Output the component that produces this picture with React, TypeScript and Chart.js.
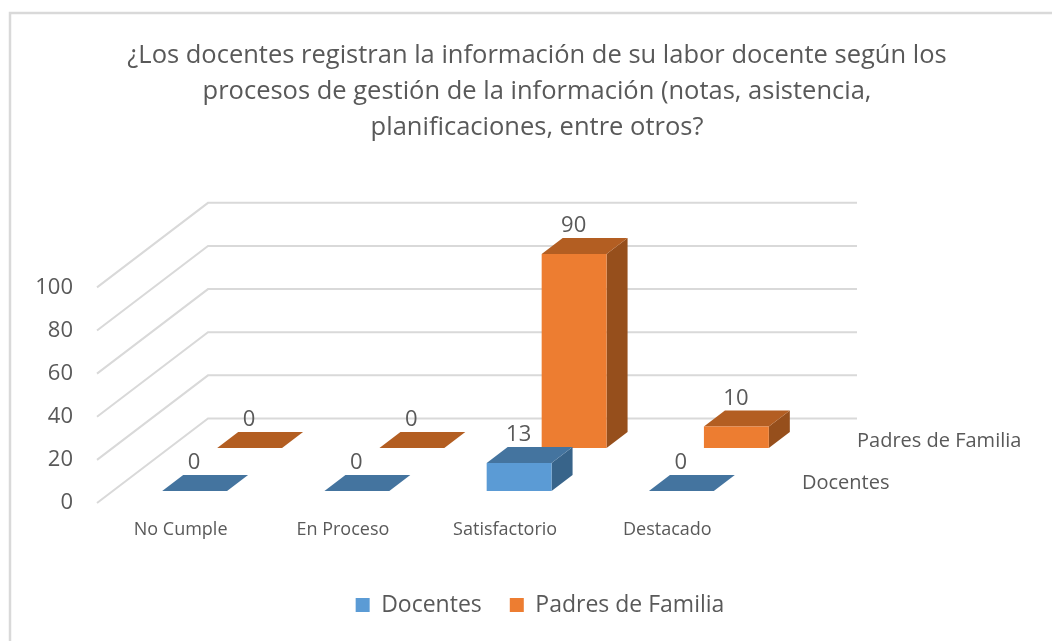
import React, { useEffect, useRef } from "react";
import { Chart, registerables } from "chart.js";

Chart.register(...registerables);

const categories = ["No Cumple", "En Proceso", "Satisfactorio", "Destacado"];
const docentes = [0, 0, 13, 0];
const padres = [0, 0, 90, 10];
const titleLines = [
  "¿Los docentes registran la información de su labor docente según los",
  "procesos de gestión de la información (notas, asistencia,",
  "planificaciones, entre otros?",
];

const FONT = "'Open Sans', sans-serif";
const TEXT = "#595959";
const GRID = "#d9d9d9";
// 3D look: how far the floor recedes, and where each series row sits on it
const WALL_DX = 111;
const WALL_DY = -84.5;
const BAR_DX = 21;
const BAR_DY = -16;
const rows = [
  { dx: 16.5, dy: -12, front: "#5b9bd5", top: "#44749f", side: "#38648a", labelX: 802, labelY: 483 },
  { dx: 71.5, dy: -55, front: "#ed7d31", top: "#b35e22", side: "#964f1c", labelX: 857, labelY: 441 },
];

const poly = (ctx: CanvasRenderingContext2D, color: string, pts: number[][]) => {
  ctx.fillStyle = color;
  ctx.beginPath();
  pts.forEach(([x, y], i) => (i ? ctx.lineTo(x, y) : ctx.moveTo(x, y)));
  ctx.closePath();
  ctx.fill();
};

const scene = {
  id: "scene",
  afterLayout(chart: any) {
    const lg = chart.legend;
    lg.left += 3;
    lg.right += 3;
  },
  beforeDraw(chart: any) {
    const { ctx, scales, chartArea } = chart;
    ctx.save();
    ctx.strokeStyle = GRID;
    ctx.lineWidth = 2.5;
    ctx.strokeRect(10, 13, 1200, 800);
    ctx.lineWidth = 2;
    scales.y.ticks.forEach((t: any) => {
      const p = scales.y.getPixelForValue(t.value);
      ctx.beginPath();
      ctx.moveTo(chartArea.left, p);
      ctx.lineTo(chartArea.left + WALL_DX, p + WALL_DY);
      ctx.lineTo(chartArea.right + WALL_DX, p + WALL_DY);
      ctx.stroke();
    });
    ctx.restore();
  },
  beforeDatasetsDraw(chart: any) {
    const { ctx } = chart;
    ctx.save();
    [1, 0].forEach((di) => {
      const r = rows[di];
      chart.getDatasetMeta(di).data.forEach((bar: any) => {
        const l = bar.x - bar.width / 2 + r.dx;
        const w = bar.width;
        const t = bar.y + r.dy;
        const b = bar.base + r.dy;
        poly(ctx, r.side, [[l + w, t], [l + w + BAR_DX, t + BAR_DY], [l + w + BAR_DX, b + BAR_DY], [l + w, b]]);
        poly(ctx, r.top, [[l, t], [l + BAR_DX, t + BAR_DY], [l + w + BAR_DX, t + BAR_DY], [l + w, t]]);
        poly(ctx, r.front, [[l, t], [l + w, t], [l + w, b], [l, b]]);
      });
    });
    ctx.restore();
  },
  beforeDatasetDraw() {
    return false;
  },
  afterDatasetsDraw(chart: any) {
    const { ctx } = chart;
    ctx.save();
    ctx.fillStyle = TEXT;
    ctx.textAlign = "center";
    ctx.textBaseline = "middle";
    ctx.font = `22px ${FONT}`;
    [1, 0].forEach((di) => {
      const r = rows[di];
      const values = chart.data.datasets[di].data;
      chart.getDatasetMeta(di).data.forEach((bar: any, i: number) => {
        ctx.fillText(String(values[i]), bar.x + r.dx - 0.5, bar.y + r.dy - 28);
      });
    });
    ctx.textAlign = "left";
    ctx.font = `20px ${FONT}`;
    rows.forEach((r, di) => {
      ctx.fillText(chart.data.datasets[di].label, r.labelX, r.labelY);
    });
    ctx.restore();
  },
};

export default function App() {
  const ref = useRef<HTMLCanvasElement>(null);
  useEffect(() => {
    document.body.style.margin = "0";
    const chart = new Chart(ref.current!, {
      type: "bar",
      plugins: [scene],
      data: {
        labels: categories,
        datasets: [
          { label: "Docentes", data: docentes, backgroundColor: rows[0].front, grouped: false, categoryPercentage: 1, barPercentage: 0.4 },
          { label: "Padres de Familia", data: padres, backgroundColor: rows[1].front, grouped: false, categoryPercentage: 1, barPercentage: 0.4 },
        ],
      } as any,
      options: {
        responsive: false,
        animation: false,
        events: [],
        layout: { padding: { left: 22, right: 0, top: 0, bottom: 14.5 } },
        plugins: {
          tooltip: { enabled: false },
          title: {
            display: true,
            text: titleLines,
            color: TEXT,
            font: { family: FONT, size: 25.5, weight: "normal", lineHeight: 1.41 },
            padding: { top: 37.5, bottom: 142 },
          },
          legend: {
            position: "bottom",
            labels: {
              color: TEXT,
              boxWidth: 14,
              boxHeight: 14,
              padding: 28,
              font: { family: FONT, size: 23 },
            },
          },
        },
        scales: {
          x: {
            grid: { display: false, drawTicks: false },
            border: { display: false },
            ticks: { color: TEXT, padding: 16, labelOffset: 2.5, maxRotation: 0, font: { family: FONT, size: 18 } },
            afterFit: (s: any) => { s.height = 62.5; },
          },
          y: {
            min: 0,
            max: 100,
            grid: { display: false, drawTicks: false },
            border: { display: false },
            ticks: { stepSize: 20, color: TEXT, padding: 24, font: { family: FONT, size: 22 } },
            afterFit: (s: any) => { s.width = 75; },
          },
          yDepth: {
            type: "linear",
            position: "right",
            grid: { display: false, drawTicks: false },
            border: { display: false },
            ticks: { display: false },
            afterFit: (s: any) => { s.width = 306; },
          },
        },
      } as any,
    });
    return () => chart.destroy();
  }, []);
  return <canvas ref={ref} width={1052} height={641} style={{ display: "block" }} />;
}
